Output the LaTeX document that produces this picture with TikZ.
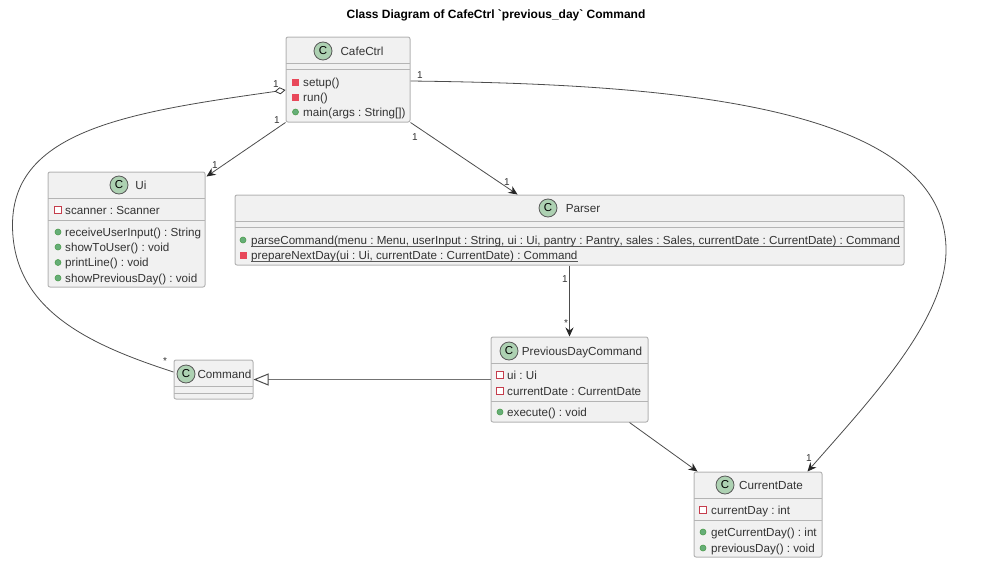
\documentclass[tikz,border=0pt]{standalone}
\usepackage{fontspec}
\setmainfont{Liberation Sans}[Kerning=Off]
\newfontfamily\titlefont{Liberation Sans}
\usetikzlibrary{arrows.meta}
\definecolor{boxedge}{HTML}{B4B4B4}
\definecolor{boxfill}{HTML}{F1F1F1}
\definecolor{spotfill}{HTML}{ADD1B2}
\definecolor{inktext}{HTML}{333333}
\definecolor{privred}{HTML}{E8485A}
\definecolor{pubgreen}{HTML}{66AE78}
\tikzset{
	classbox/.style={draw=boxedge, fill=boxfill, line width=1pt, rounded corners=2pt, inner sep=0pt},
	sepline/.style={draw=boxedge, line width=1pt},
	spot/.style={circle, draw=black!65, fill=spotfill, line width=.8pt, minimum size=18pt, inner sep=0pt, font=\fontsize{11.5}{13}\selectfont},
	classname/.style={anchor=base, inner sep=0pt, text=inktext, font=\fontsize{11.7}{13}\selectfont},
	member/.style={anchor=base west, inner sep=0pt, text=inktext, font=\fontsize{11.65}{13}\selectfont},
	mult/.style={inner sep=0pt, text=inktext, font=\fontsize{10}{11}\selectfont},
	pub/.style={circle, draw=green!45!black!70, fill=pubgreen, line width=.6pt, minimum size=6pt, inner sep=0pt},
	privfield/.style={rectangle, draw=privred!85!black, fill=white, line width=.8pt, minimum size=6.5pt, inner sep=0pt},
	privmethod/.style={rectangle, fill=privred, minimum size=7pt, inner sep=0pt},
	underl/.style={draw=black!65, line width=.9pt},
	conn/.style={draw=black!70, line width=.8pt},
	arr/.style={conn, -{Stealth[length=9pt,width=8pt,inset=3pt,black!85]}},
}
\begin{document}
\frenchspacing
\begin{tikzpicture}[x=1pt,y=-1pt]
	\useasboundingbox (0,0) rectangle (1000,562);
	\node[inner sep=0pt, font=\fontsize{12}{14}\titlefont\bfseries\selectfont] (title) at (496,15.5) {Class Diagram of CafeCtrl `previous\_day` Command};
	% boxes
	\node[classbox, minimum width=124pt, minimum height=85pt] (cafectrl) at (348,79.5) {};
	\node[classbox, minimum width=157pt, minimum height=115pt] (ui) at (126.5,229.5) {};
	\node[classbox, minimum width=669pt, minimum height=70pt] (parser) at (569.5,230) {};
	\node[classbox, minimum width=79pt, minimum height=39pt] (command) at (213.5,379.5) {};
	\node[classbox, minimum width=157pt, minimum height=85pt] (previousday) at (569.5,379.5) {};
	\node[classbox, minimum width=128pt, minimum height=85pt] (currentdate) at (758,514.5) {};
	% separators
	\draw[sepline] (286,63)--(410,63);
	\draw[sepline] (286,69)--(410,69);
	\draw[sepline] (48,198)--(205,198);
	\draw[sepline] (48,220)--(205,220);
	\draw[sepline] (235,221)--(904,221);
	\draw[sepline] (235,227)--(904,227);
	\draw[sepline] (174,386)--(253,386);
	\draw[sepline] (174,393)--(253,393);
	\draw[sepline] (491,363)--(648,363);
	\draw[sepline] (491,401)--(648,401);
	\draw[sepline] (694,498)--(822,498);
	\draw[sepline] (694,520)--(822,520);
	% class names
	\node[spot] (cafectrl-c) at (323,51) {C};
	\node[classname] (cafectrl-name) at (362,55) {CafeCtrl};
	\node[spot] (ui-c) at (119,185) {C};
	\node[classname] (ui-name) at (141,189) {Ui};
	\node[spot] (parser-c) at (548,208) {C};
	\node[classname] (parser-name) at (583,212) {Parser};
	\node[spot] (command-c) at (186,374) {C};
	\node[classname] (command-name) at (224.5,378) {Command};
	\node[spot] (previousday-c) at (509,351) {C};
	\node[classname] (previousday-name) at (582,355) {PreviousDayCommand};
	\node[spot] (currentdate-c) at (725,485) {C};
	\node[classname] (currentdate-name) at (771,489) {CurrentDate};
	% members
	\node[privmethod] (cafe-i1) at (295.5,82) {};
	\node[member] (cafe-m1) at (303,86) {setup()};
	\node[privmethod] (cafe-i2) at (295.5,97) {};
	\node[member] (cafe-m2) at (303,101) {run()};
	\node[pub] (cafe-i3) at (295.5,112) {};
	\node[member] (cafe-m3) at (303,116) {main(args : String[])};
	\node[privfield] (ui-i1) at (58,210) {};
	\node[member] (ui-m1) at (65,214) {scanner : Scanner};
	\node[pub] (ui-i2) at (58,232) {};
	\node[member] (ui-m2) at (65,236) {receiveUserInput() : String};
	\node[pub] (ui-i3) at (58,247) {};
	\node[member] (ui-m3) at (65,251) {showToUser() : void};
	\node[pub] (ui-i4) at (58,262.5) {};
	\node[member] (ui-m4) at (65,266.5) {printLine() : void};
	\node[pub] (ui-i5) at (58,278) {};
	\node[member] (ui-m5) at (65,282) {showPreviousDay() : void};
	\node[pub] (parser-i1) at (243,240) {};
	\node[member] (parser-m1) at (251,244) {parseCommand(menu : Menu, userInput : String, ui : Ui, pantry : Pantry, sales : Sales, currentDate : CurrentDate) : Command};
	\node[privmethod] (parser-i2) at (243,255) {};
	\node[member] (parser-m2) at (251,259) {prepareNextDay(ui : Ui, currentDate : CurrentDate) : Command};
	\draw[underl] ([yshift=-2.5pt]parser-m1.base west)--([yshift=-2.5pt]parser-m1.base east);
	\draw[underl] ([yshift=-2.5pt]parser-m2.base west)--([yshift=-2.5pt]parser-m2.base east);
	\node[privfield] (previousday-i1) at (500,375) {};
	\node[member] (previousday-m1) at (507,379.5) {ui : Ui};
	\node[privfield] (previousday-i2) at (500,391) {};
	\node[member] (previousday-m2) at (507,395) {currentDate : CurrentDate};
	\node[pub] (previousday-i3) at (500,412) {};
	\node[member] (previousday-m3) at (507,416.5) {execute() : void};
	\node[privfield] (currentdate-i1) at (703,510) {};
	\node[member] (currentdate-m1) at (711,514.5) {currentDay : int};
	\node[pub] (currentdate-i2) at (703,532) {};
	\node[member] (currentdate-m2) at (711,536.5) {getCurrentDay() : int};
	\node[pub] (currentdate-i3) at (703,548) {};
	\node[member] (currentdate-m3) at (711,552) {previousDay() : void};
	% connectors
	\coordinate (aggbend) at (12.5,225);
	\coordinate (datebend) at (946,250);
	\draw[conn, {Diamond[open,fill=white,length=11pt,width=7pt,black!80]}-] ([yshift=-10.5pt]cafectrl.west) .. controls (130,112) and (12.5,130) .. (aggbend) .. controls (12.5,310) and (90,345) .. ([yshift=7.5pt]command.west);
	\draw[arr] (cafectrl.south west)--([shift={(1pt,-5pt)}]ui.north east);
	\draw[arr] (cafectrl.south east)--([xshift=283pt]parser.north west);
	\draw[arr] ([yshift=-1.5pt]cafectrl.east) .. controls (650,84) and (946,100) .. (datebend) .. controls (946,320) and (870,400) .. ([xshift=-15pt]currentdate.north east);
	\draw[arr] (parser.south)--(previousday.north);
	\draw[arr] ([xshift=-19pt]previousday.south east)--([xshift=4pt]currentdate.north west);
	\draw[conn, draw=black!55, line width=1pt, -{Triangle[open,fill=white,length=15pt,width=12pt,black!70]}] (previousday.west)--(command.east);
	% multiplicities
	\node[mult] (mult-a) at (276,84) {1};
	\node[mult] (mult-b) at (277,120) {1};
	\node[mult] (mult-c) at (215,165) {1};
	\node[mult] (mult-d) at (165,361) {*};
	\node[mult] (mult-e) at (420,75) {1};
	\node[mult] (mult-f) at (415,137) {1};
	\node[mult] (mult-g) at (507,182) {1};
	\node[mult] (mult-h) at (565,279) {1};
	\node[mult] (mult-i) at (566,323) {*};
	\node[mult] (mult-j) at (809,458) {1};
\end{tikzpicture}
\end{document}
